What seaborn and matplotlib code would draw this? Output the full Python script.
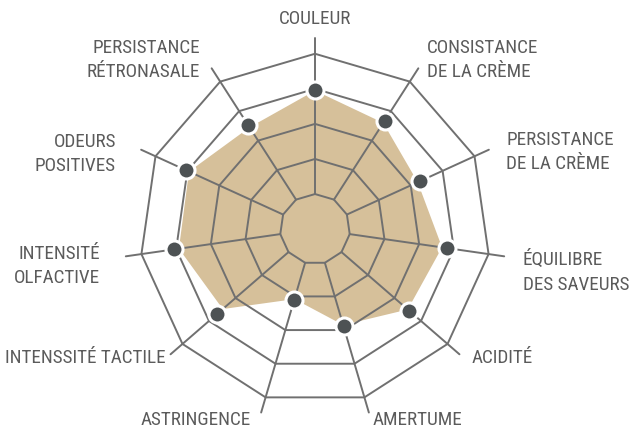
import numpy as np
import pandas as pd
import matplotlib
matplotlib.use("Agg")
import matplotlib.pyplot as plt
import seaborn as sns
from matplotlib import font_manager as fm
from matplotlib.textpath import TextPath

# axes of the sensory profile, clockwise from the top
criteres = ['COULEUR', 'CONSISTANCE\nDE LA CRÈME', 'PERSISTANCE\nDE LA CRÈME',
            'ÉQUILIBRE\nDES SAVEURS', 'ACIDITÉ', 'AMERTUME', 'ASTRINGENCE',
            'INTENSSITÉ TACTILE', 'INTENSITÉ\nOLFACTIVE', 'ODEURS\nPOSITIVES',
            'PERSISTANCE\nRÉTRONASALE']
# scores shown by the dots
notes = [3.98, 3.68, 3.30, 3.80, 3.56, 2.89, 2.11, 3.70, 4.05, 4.05, 3.54]
# scores of the beige area
zone = [3.95, 3.60, 3.22, 3.66, 3.50, 2.85, 2.08, 3.48, 3.92, 3.95, 3.45]
niveaux = [1, 2, 3, 4, 5]

sns.set_theme(style='white')
plt.rcParams['font.family'] = ['Roboto', 'DejaVu Sans']


def police_etroite():
    # look for a condensed / narrow face, else plain Roboto
    prefs = ['Roboto Condensed', 'Liberation Sans Narrow', 'Noto Sans',
             'Open Sans', 'DejaVu Sans', 'Roboto', 'Lato', 'Inter']
    trouve = []
    for f in fm.fontManager.ttflist:
        etroit = ('Condensed' in f.name or 'Narrow' in f.name
                  or str(f.stretch) in ('condensed', 'semi-condensed',
                                        'extra-condensed'))
        if etroit and f.style == 'normal' and f.weight in (400, 'normal', 'regular'):
            trouve.append(f)
    for p in prefs:
        for f in trouve:
            if f.name.startswith(p):
                return fm.FontProperties(fname=f.fname)
    return fm.FontProperties(family='Roboto')


prop = police_etroite()
# size so that "PERSISTANCE" is about 106 px wide, capped at 15 pt
tp = TextPath((0, 0), 'PERSISTANCE', prop=prop, size=10)
largeur = tp.get_extents().width * 100 / 72
taille = min(15.0, 10 * 106 / largeur)
prop.set_size(taille)

gris = '#707070'
texte = '#5b5b5b'
beige = '#d6c09a'
point = '#4d5254'

n = len(criteres)
angles = np.arange(n) * 2 * np.pi / n
ang_ferme = np.append(angles, angles[0])

fig = plt.figure(figsize=(6.3, 4.36), dpi=100)
ax = fig.add_axes([0.1825, 0.016, 0.635, 0.917], projection='polar')
ax.set_theta_zero_location('N')
ax.set_theta_direction(-1)
ax.set_ylim(0, 5.70)
ax.grid(False)
ax.set_xticks([])
ax.set_yticks([])
ax.spines['polar'].set_visible(False)
ax.set_facecolor('none')

# beige area
ax.fill(ang_ferme, np.append(zone, zone[0]), color=beige, lw=0, zorder=1)

# polygon rings and spokes
for niv in niveaux:
    ax.plot(ang_ferme, [niv] * (n + 1), color=gris, lw=1.4, zorder=2)
for a in angles:
    ax.plot([a, a], [1, 5.45], color=gris, lw=1.4, zorder=2)

df = pd.DataFrame({'angle': angles, 'note': notes})
sns.scatterplot(data=df, x='angle', y='note', ax=ax, s=150, color=point,
                edgecolor='white', linewidth=2.2, zorder=3, legend=False)
ax.set_xlabel('')
ax.set_ylabel('')

# labels (pixel anchor, alignment)
places = [(315, 19, 'center'), (427, 60, 'left'), (506, 152, 'left'),
          (523, 272, 'left'), (472, 358, 'left'), (373, 420, 'left'),
          (251, 420, 'right'), (166, 358, 'right'), (100, 266, 'right'),
          (116, 154, 'right'), (200, 60, 'right')]
for lab, (x, y, ha) in zip(criteres, places):
    fig.text(x / 630, 1 - y / 436, lab, ha=ha, va='center',
             fontproperties=prop, color=texte, linespacing=1.45)

fig.savefig('out.png', dpi=100)
